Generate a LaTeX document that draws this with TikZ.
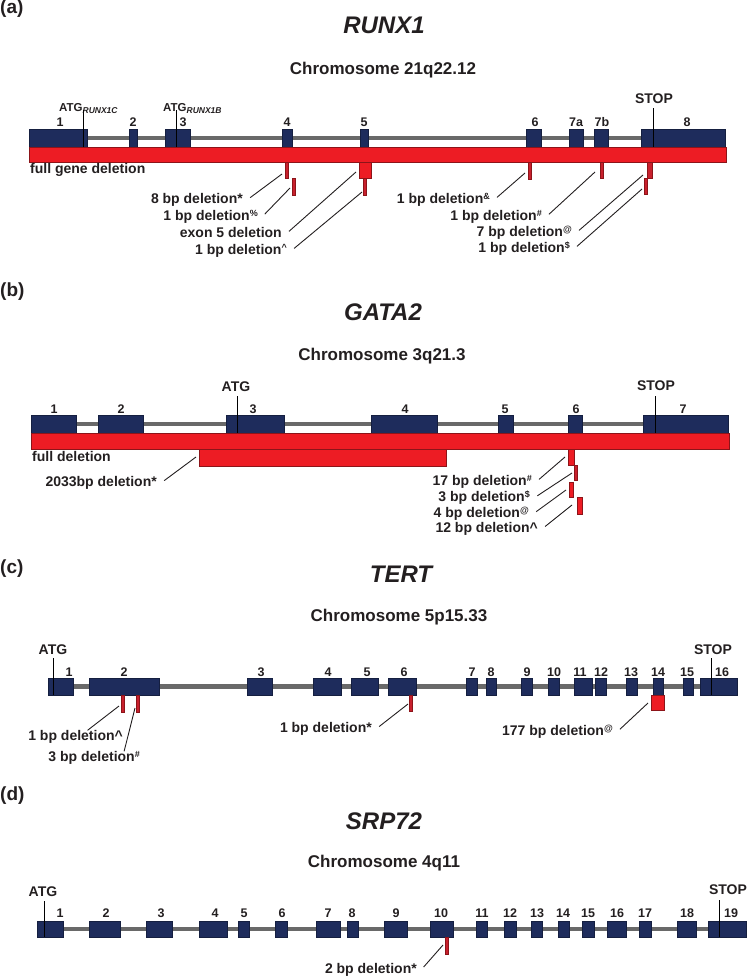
\documentclass[tikz,border=0pt]{standalone}
\usepackage{fontspec}
\setmainfont{Liberation Sans}
\usetikzlibrary{calc}
\pgfdeclarelayer{bg}
\pgfsetlayers{bg,main}
\definecolor{navy}{RGB}{30,44,92}
\definecolor{delred}{RGB}{237,28,36}
\definecolor{deledge}{RGB}{140,20,25}
\definecolor{snipred}{RGB}{200,32,45}
\definecolor{intr}{RGB}{105,105,105}
\definecolor{ink}{RGB}{35,31,32}
% style, name, x1, x2, y1, y2
\newcommand{\genebox}[6]{\node[#1, minimum width={((#4)-(#3))*1pt}, minimum height={((#6)-(#5))*1pt}] (#2) at ({((#3)+(#4))/2},{((#5)+(#6))/2}) {};}
\newcommand{\supmark}[1]{\raisebox{4.5pt}{\fontsize{9}{10}\selectfont #1}}
\newcommand{\submark}[1]{\raisebox{-2.5pt}{\fontsize{8.5}{10}\selectfont\itshape #1}}
\begin{document}
\begin{tikzpicture}[x=1pt,y=-1pt,
  every node/.style={text=ink},
  exon/.style={draw=navy!70!black, fill=navy, line width=0.4pt, inner sep=0pt, outer sep=0pt},
  bigdel/.style={draw=deledge, fill=delred, line width=0.6pt, inner sep=0pt, outer sep=0pt},
  snip/.style={draw=deledge, fill=snipred, line width=0.5pt, inner sep=0pt, outer sep=0pt},
  intron/.style={draw=intr, line width=4.5pt},
  siteline/.style={draw=black, line width=1pt},
  leader/.style={draw=ink, line width=0.9pt, shorten <=4pt},
  panel/.style={font=\fontsize{19}{22}\selectfont\bfseries, anchor=north west, inner sep=0pt},
  gene/.style={font=\fontsize{24}{28}\selectfont\bfseries\itshape, inner sep=0pt},
  chrom/.style={font=\fontsize{17}{19}\selectfont\bfseries, inner sep=0pt},
  exnum/.style={font=\fontsize{12.5}{14}\selectfont\bfseries, inner sep=0pt},
  sitelab/.style={font=\fontsize{14}{16}\selectfont\bfseries, inner sep=0pt},
  dlab/.style={font=\fontsize{14}{16}\selectfont\bfseries, anchor=east, inner xsep=4pt, inner ysep=0pt, text height=10pt, text depth=3pt},
  flab/.style={font=\fontsize{14}{16}\selectfont\bfseries, anchor=west, inner sep=0pt, text height=10pt, text depth=3pt},
  ]
\useasboundingbox (0,0) rectangle (748,980);

% ================= (a) RUNX1 =================
\node[panel] (pa) at (0,0) {(a)};
\node[gene] (ga) at (384,25) {RUNX1};
\node[chrom] (ca) at (383,70) {Chromosome 21q22.12};
\foreach \n/\xa/\xb in {1/29/87,2/129/137,3/165/190,4/282/292,5/360/368,6/526/541,7a/569/583,7b/594/608,8/641/725}{\genebox{exon}{a\n}{\xa}{\xb}{129}{147}}
\begin{pgfonlayer}{bg}\draw[intron] (a1.center) -- (a8.center);\end{pgfonlayer}
\foreach \n/\x in {1/60,2/133,3/183,4/287,5/364,6/535,7a/576,7b/602,8/687}{\node[exnum] (na\n) at (\x,122) {\n};}
\node[font=\fontsize{11.5}{13}\selectfont\bfseries, inner sep=0pt, anchor=base west] (atgac) at (59,111) {ATG\submark{RUNX1C}};
\node[font=\fontsize{11.5}{13}\selectfont\bfseries, inner sep=0pt, anchor=base west] (atgab) at (163,111) {ATG\submark{RUNX1B}};
\node[sitelab] (stopa) at (654,99) {STOP};
\coordinate (sa1t) at (83,110); \coordinate (sa1b) at (83,147);
\coordinate (sa2t) at (176,110); \coordinate (sa2b) at (176,147);
\coordinate (sa3t) at (653,108); \coordinate (sa3b) at (653,147);
\draw[siteline] (sa1t) -- (sa1b);
\draw[siteline] (sa2t) -- (sa2b);
\draw[siteline] (sa3t) -- (sa3b);
\genebox{bigdel}{fa}{29}{726}{147}{162}
\node[flab] (fla) at (30,170) {full gene deletion};
\genebox{snip}{sa1}{285}{288}{162}{178}
\genebox{snip}{sa2}{292}{295}{178}{195}
\genebox{bigdel}{sa3}{359}{371}{162}{178}
\genebox{snip}{sa4}{363}{366}{178}{195}
\genebox{snip}{sa5}{528}{531}{162}{179}
\genebox{snip}{sa6}{600}{603}{162}{178}
\genebox{snip}{sa7}{647}{652}{162}{178}
\genebox{snip}{sa8}{644}{647}{178}{194}
\node[dlab] (la1) at (247,200) {8 bp deletion*};
\node[dlab] (la2) at (262,217) {1 bp deletion\supmark{\%}};
\node[dlab] (la3) at (286,234) {exon 5 deletion};
\node[dlab] (la4) at (291,251) {1 bp deletion\supmark{\textasciicircum}};
\node[dlab] (la5) at (494,200) {1 bp deletion\supmark{\&}};
\node[dlab] (la6) at (546,217) {1 bp deletion\supmark{\#}};
\node[dlab] (la7) at (576,233) {7 bp deletion\supmark{@}};
\node[dlab] (la8) at (574,249) {1 bp deletion\supmark{\$}};
\coordinate (ea1) at (282,174);
\coordinate (ea2) at (290,188);
\coordinate (ea3) at (356,172);
\coordinate (ea4) at (362,192);
\coordinate (ea5) at (525,173);
\coordinate (ea6) at (595,172);
\coordinate (ea7) at (643,175);
\coordinate (ea8) at (642,189);
\foreach \i in {1,...,8}{\draw[leader] (la\i.east) -- (ea\i);}

% ================= (b) GATA2 =================
\node[panel] (pb) at (0,283) {(b)};
\node[gene] (gb) at (383,312) {GATA2};
\node[chrom] (cb) at (382,356) {Chromosome 3q21.3};
\foreach \n/\xa/\xb in {1/31/76,2/98/143,3/226/284,4/371/437,5/498/513,6/568/582,7/643/728}{\genebox{exon}{b\n}{\xa}{\xb}{415}{433}}
\begin{pgfonlayer}{bg}\draw[intron] (b1.center) -- (b7.center);\end{pgfonlayer}
\foreach \n/\x in {1/54,2/121,3/253,4/405,5/505,6/576,7/683}{\node[exnum] (nb\n) at (\x,409) {\n};}
\node[sitelab] (atgb) at (236,387) {ATG};
\node[sitelab] (stopb) at (656,386) {STOP};
\coordinate (sb1t) at (237,396); \coordinate (sb1b) at (237,433);
\coordinate (sb2t) at (655,396); \coordinate (sb2b) at (655,433);
\draw[siteline] (sb1t) -- (sb1b);
\draw[siteline] (sb2t) -- (sb2b);
\genebox{bigdel}{fb}{31}{729}{433}{449}
\node[flab] (flb) at (32,458) {full deletion};
\genebox{bigdel}{db}{199}{446}{449}{466}
\genebox{bigdel}{sb1}{568}{574}{449}{465}
\genebox{snip}{sb2}{574}{577}{465}{480}
\genebox{bigdel}{sb3}{569}{573}{482}{497}
\genebox{bigdel}{sb4}{577}{582}{497}{514}
\node[dlab] (lb0) at (161,483) {2033bp deletion*};
\node[dlab] (lb1) at (536,482) {17 bp deletion\supmark{\#}};
\node[dlab] (lb2) at (534,498) {3 bp deletion\supmark{\$}};
\node[dlab] (lb3) at (533,514) {4 bp deletion\supmark{@}};
\node[dlab] (lb4) at (542,529) {12 bp deletion\textasciicircum};
\coordinate (eb0) at (196,457);
\coordinate (eb1) at (565,457);
\coordinate (eb2) at (572,473);
\coordinate (eb3) at (566,490);
\coordinate (eb4) at (572,505);
\foreach \i in {0,...,4}{\draw[leader] (lb\i.east) -- (eb\i);}

% ================= (c) TERT =================
\node[panel] (pc) at (0,560) {(c)};
\node[gene] (gc) at (401,574) {TERT};
\node[chrom] (cc) at (399,617) {Chromosome 5p15.33};
\foreach \n/\xa/\xb in {1/48/73,2/89/159,3/247/272,4/313/341,5/351/378,6/388/416,7/466/477,8/486/496,9/521/532,10/548/559,11/574/592,12/595/606,13/626/637,14/653/663,15/683/693,16/700/737}{\genebox{exon}{c\n}{\xa}{\xb}{678}{695}}
\begin{pgfonlayer}{bg}\draw[intron] (c1.center) -- (c16.center);\end{pgfonlayer}
\foreach \n/\x in {1/69,2/124,3/261,4/328,5/367,6/404,7/472,8/491,9/527,10/554,11/580,12/601,13/631,14/658,15/687,16/722}{\node[exnum] (nc\n) at (\x,672) {\n};}
\node[sitelab] (atgc) at (53,650) {ATG};
\node[sitelab] (stopc) at (713,650) {STOP};
\coordinate (sc1t) at (53,658); \coordinate (sc1b) at (53,695);
\coordinate (sc2t) at (711,658); \coordinate (sc2b) at (711,695);
\draw[siteline] (sc1t) -- (sc1b);
\draw[siteline] (sc2t) -- (sc2b);
\genebox{snip}{scd1}{121}{124}{695}{712}
\genebox{snip}{scd2}{136}{139}{695}{712}
\genebox{snip}{scd3}{409}{412}{695}{711}
\genebox{bigdel}{scd4}{651}{664}{695}{710}
\node[dlab] (lc1) at (127,737) {1 bp deletion\textasciicircum};
\node[dlab] (lc2) at (144,758) {3 bp deletion\supmark{\#}};
\node[dlab] (lc3) at (376,729) {1 bp deletion*};
\node[dlab] (lc4) at (617,732) {177 bp deletion\supmark{@}};
\coordinate (ec1) at (119,706);
\coordinate (ec2) at (135,708);
\coordinate (ec3) at (408,704);
\coordinate (ec4) at (648,703);
\draw[leader, shorten <=0pt] ([xshift=12pt]lc1.north) -- (ec1);
\draw[leader, shorten <=0pt] ([xshift=30pt]lc2.north) -- (ec2);
\draw[leader] (lc3.east) -- (ec3);
\draw[leader] (lc4.east) -- (ec4);

% ================= (d) SRP72 =================
\node[panel] (pd) at (0,787) {(d)};
\node[gene] (gd) at (384,821) {SRP72};
\node[chrom] (cd) at (384,863) {Chromosome 4q11};
\foreach \n/\xa/\xb in {1/37/63,2/89/120,3/146/172,4/199/227,5/238/249,6/275/287,7/316/340,8/347/358,9/384/407,10/430/453,11/476/487,12/504/516,13/531/542,14/558/569,15/582/594,16/607/626,17/639/651,18/677/696,19/708/746}{\genebox{exon}{d\n}{\xa}{\xb}{921}{937}}
\begin{pgfonlayer}{bg}\draw[intron] (d1.center) -- (d19.center);\end{pgfonlayer}
\foreach \n/\x in {1/60,2/106,3/161,4/215,5/244,6/282,7/328,8/352,9/396,10/441,11/482,12/510,13/537,14/563,15/588,16/617,17/645,18/687,19/731}{\node[exnum] (nd\n) at (\x,913) {\n};}
\node[sitelab] (atgd) at (43,892) {ATG};
\node[sitelab] (stopd) at (728,890) {STOP};
\coordinate (sd1t) at (44,901); \coordinate (sd1b) at (44,937);
\coordinate (sd2t) at (719,900); \coordinate (sd2b) at (719,937);
\draw[siteline] (sd1t) -- (sd1b);
\draw[siteline] (sd2t) -- (sd2b);
\genebox{snip}{sdd1}{445}{448}{937}{954}
\node[dlab] (ld1) at (421,970) {2 bp deletion*};
\coordinate (ed1) at (443,945);
\draw[leader] (ld1.east) -- (ed1);
\end{tikzpicture}
\end{document}
